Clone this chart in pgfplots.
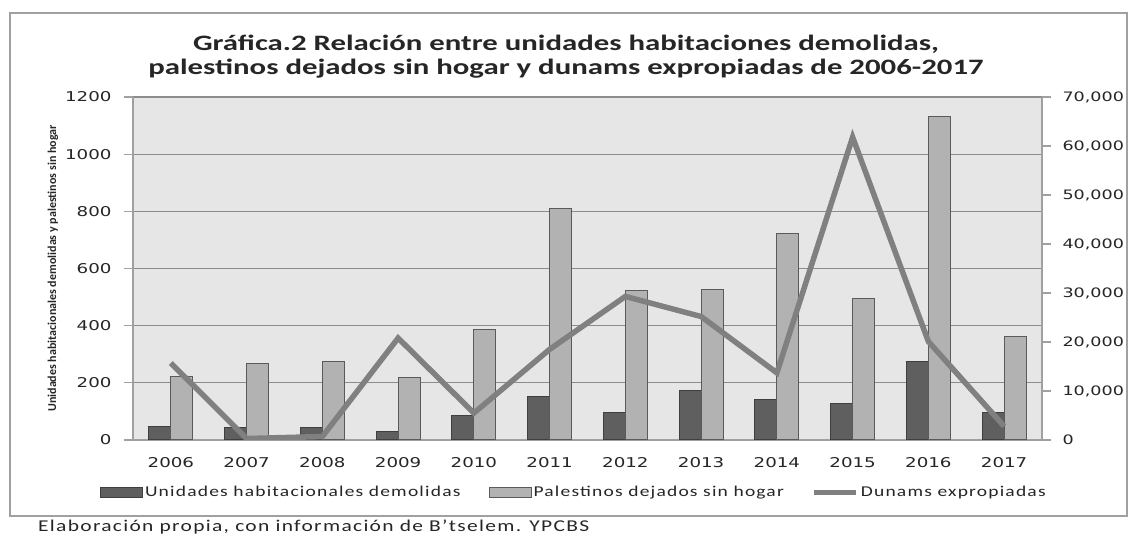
\documentclass[border=0pt]{standalone}
\usepackage{fontspec}
\usepackage{pgfplots}
\pgfplotsset{compat=1.18}
\setmainfont{Carlito}
\newfontfamily\titlefont{Carlito}[FakeStretch=1.4]
\newfontfamily\legfont{Carlito}[FakeStretch=1.3,LetterSpace=8]
\newfontfamily\tickfont{DejaVu Sans}[FakeStretch=1.35]
\newfontfamily\ylabfont{Carlito}
\definecolor{plotbg}{HTML}{E6E6E6}
\definecolor{gridc}{HTML}{8C8C8C}
\definecolor{axisc}{HTML}{A0A0A0}
\definecolor{darkbar}{HTML}{5F5F5F}
\definecolor{darkedge}{HTML}{3F3F3F}
\definecolor{lightbar}{HTML}{B2B2B2}
\definecolor{lightedge}{HTML}{5A5A5A}
\definecolor{linec}{HTML}{808080}
\definecolor{txt}{HTML}{262626}

\pgfplotstableread{
x dem hog dun
0 48 223 15700
1 45 266 300
2 45 274 700
3 30 218 20800
4 87 388 5500
5 151 810 18500
6 97 523 29300
7 174 528 25200
8 143 721 13700
9 127 496 61800
10 274 1133 20100
11 97 362 2800
}\datatable

\begin{document}
\begin{tikzpicture}
\path[use as bounding box] (0pt,0pt) rectangle (1128pt,-534pt);
\fill[white] (0pt,0pt) rectangle (1128pt,-534pt);
\draw[axisc, line width=1.5pt] (10pt,-13pt) rectangle (1127pt,-516pt);

\node[align=center, text=txt, font=\titlefont\bfseries\fontsize{22}{24}\selectfont] at (566pt,-57pt)
  {Gráfica.2 Relación entre unidades habitaciones demolidas,\\palestinos dejados sin hogar y dunams expropiadas de 2006-2017};

\node[anchor=west, text=txt, font=\legfont\fontsize{16.5}{18}\selectfont, inner sep=0pt] at (38pt,-527pt)
  {Elaboración propia, con información de B’tselem. YPCBS};

\begin{axis}[
  at={(133pt,-440pt)}, anchor=south west,
  width=909pt, height=343pt, scale only axis,
  xmin=-0.5, xmax=11.5, ymin=0, ymax=1200,
  ybar=0pt, bar width=22pt,
  axis background/.style={fill=plotbg},
  axis x line*=bottom, axis y line*=left,
  axis line style={-, draw=axisc, line width=1.5pt},
  xtick={0,...,11},
  xticklabels={2006,2007,2008,2009,2010,2011,2012,2013,2014,2015,2016,2017},
  xtick style={draw=none},
  ytick={0,200,...,1200},
  ytick style={draw=axisc, line width=1.2pt},
  tick align=outside, major tick length=9pt,
  ymajorgrids, grid style={gridc, line width=1.2pt},
  /pgf/number format/assume math mode=true,
  /pgf/number format/1000 sep={},
  ticklabel style={font=\tickfont\fontsize{13.5}{15}\selectfont, text=txt},
  yticklabel style={xshift=-9pt},
  xticklabel style={yshift=-5pt},
  ylabel={Unidades habitacionales demolidas y palestinos sin hogar},
  ylabel style={at={(axis description cs:-0.088,0.5)}, anchor=center, rotate=0,
    font=\ylabfont\bfseries\fontsize{12}{14}\selectfont, text=txt},
  legend style={at={(axis description cs:0.485,-0.152)}, anchor=center,
    draw=none, fill=none, legend columns=3,
    font=\legfont\fontsize{15}{17}\selectfont, text=txt,
    /tikz/every even column/.append style={column sep=26pt}},
  legend image code/.code={\draw[#1] (0pt,-5pt) rectangle (42pt,5pt);},
]
\addplot[fill=darkbar, draw=darkedge, line width=1pt] table[x=x,y=dem] {\datatable};
\addlegendentry{Unidades habitacionales demolidas}
\addplot[fill=lightbar, draw=lightedge, line width=1pt] table[x=x,y=hog] {\datatable};
\addlegendentry{Palestinos dejados sin hogar}
\addlegendimage{legend image code/.code={\draw[linec, line width=5pt] (0pt,0pt) -- (42pt,0pt);}}
\addlegendentry{Dunams expropiadas}
\end{axis}

\begin{axis}[
  at={(133pt,-440pt)}, anchor=south west,
  width=909pt, height=343pt, scale only axis,
  xmin=-0.5, xmax=11.5, ymin=0, ymax=70000,
  axis x line=none, axis y line*=right,
  axis line style={-, draw=axisc, line width=1.5pt},
  ytick={0,10000,...,70000},
  ytick style={draw=axisc, line width=1.2pt},
  tick align=outside, major tick length=9pt,
  scaled y ticks=false,
  /pgf/number format/assume math mode=true,
  /pgf/number format/1000 sep={,},
  yticklabel style={font=\tickfont\fontsize{13}{15}\selectfont, text=txt, xshift=8pt},
]
\addplot[linec, line width=5.5pt, mark=none] table[x=x,y=dun] {\datatable};
\end{axis}
\end{tikzpicture}
\end{document}
